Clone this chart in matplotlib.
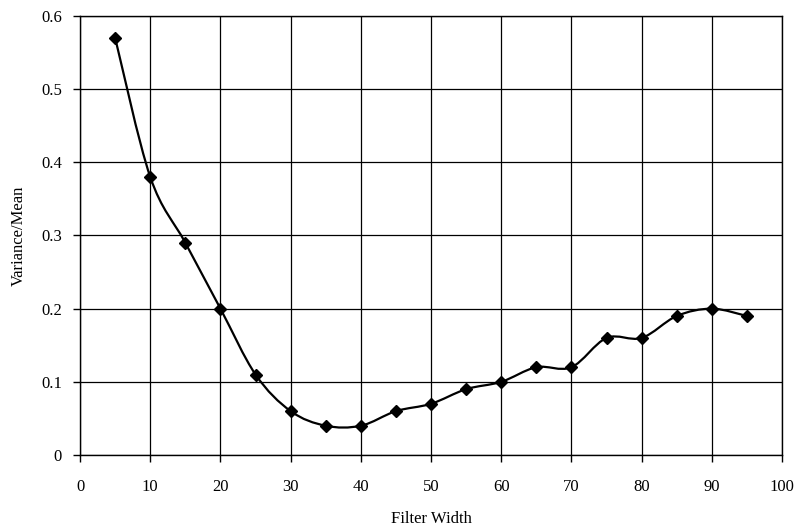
import numpy as np
import matplotlib
matplotlib.use("Agg")
import matplotlib.pyplot as plt
from matplotlib.path import Path
from matplotlib.patches import PathPatch

# values
filter_width = [5, 10, 15, 20, 25, 30, 35, 40, 45, 50, 55, 60, 65, 70, 75, 80, 85, 90, 95]
var_mean = [0.57, 0.38, 0.29, 0.20, 0.11, 0.06, 0.04, 0.04, 0.06, 0.07, 0.09, 0.10,
            0.12, 0.12, 0.16, 0.16, 0.19, 0.20, 0.19]
x_ticks = [0, 10, 20, 30, 40, 50, 60, 70, 80, 90, 100]
y_ticks = [0, 0.1, 0.2, 0.3, 0.4, 0.5, 0.6]
y_tick_labels = ["0", "0.1", "0.2", "0.3", "0.4", "0.5", "0.6"]

plt.rcParams['font.family'] = ['Liberation Serif', 'DejaVu Serif']


def smooth_path(xs, ys, t=1.0 / 6):
    # Catmull-Rom style bezier, like a spreadsheet "smoothed line"
    pts = np.column_stack([xs, ys]).astype(float)
    verts = [pts[0]]
    codes = [Path.MOVETO]
    n = len(pts)
    for i in range(n - 1):
        p0 = pts[i - 1] if i > 0 else pts[i]
        p1 = pts[i]
        p2 = pts[i + 1]
        p3 = pts[i + 2] if i + 2 < n else pts[i + 1]
        c1 = p1 + (p2 - p0) * t
        c2 = p2 - (p3 - p1) * t
        verts += [c1, c2, p2]
        codes += [Path.CURVE4] * 3
    return Path(verts, codes)


fig = plt.figure(figsize=(7.98, 5.32), dpi=100)
ax = fig.add_axes([0.1003, 0.1447, 0.8797, 0.8253])

ax.add_patch(PathPatch(smooth_path(filter_width, var_mean), fill=False,
                       edgecolor='black', lw=1.6, zorder=3))
ax.plot(filter_width, var_mean, linestyle='none', marker='D', markersize=6.5,
        color='black', zorder=4)

ax.set_xlim(0, 100)
ax.set_ylim(0, 0.6)
ax.set_xticks(x_ticks)
ax.set_yticks(y_ticks)
ax.set_yticklabels(y_tick_labels)
ax.grid(True, color='black', lw=0.9)
ax.set_axisbelow(True)
for s in ax.spines.values():
    s.set_color('black')
    s.set_linewidth(1.0)
ax.tick_params(axis='x', direction='out', length=5, width=1, pad=12, labelsize=12)
ax.tick_params(axis='y', direction='out', length=5, width=1, pad=8, labelsize=12)

ax.set_xlabel("Filter Width", fontsize=12, labelpad=12)
ax.set_ylabel("Variance/Mean", fontsize=12, labelpad=10)

fig.savefig("out.png", dpi=100)
